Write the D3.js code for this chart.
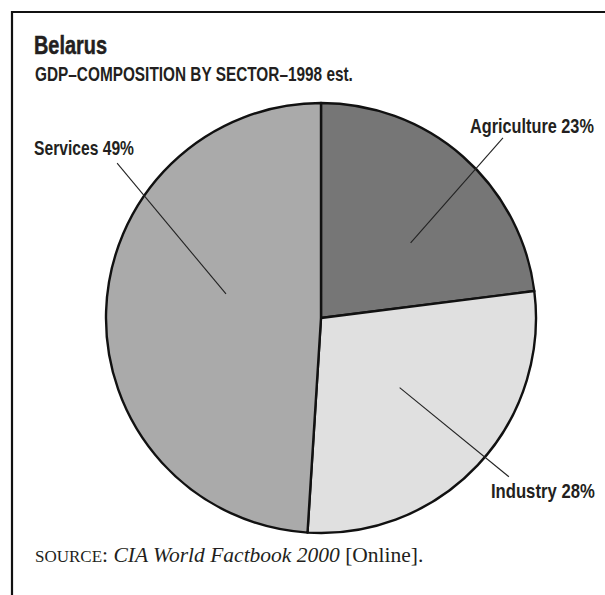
<!DOCTYPE html>
<html>
<head>
<meta charset="utf-8">
<script src="https://cdn.jsdelivr.net/npm/d3@7"></script>
<style>
  html, body { margin: 0; padding: 0; background: #fff; }
  svg { display: block; }
  .cond { font-family: "Liberation Sans", Arial, sans-serif; font-weight: bold; fill: #231f20; }
  .serif { font-family: "Liberation Serif", "DejaVu Serif", serif; fill: #231f20; }
</style>
</head>
<body>
<svg id="chart" width="605" height="595"></svg>
<script>
// GDP composition by sector, Belarus 1998 est.
const sectors = ["Agriculture", "Industry", "Services"];
const shares = [23, 28, 49];
const fills = ["#767676", "#e0e0e0", "#aaaaaa"];

// Leader lines: polar positions (degrees clockwise from 12 o'clock, radius in px),
// label offset from the outer end and label width for the condensed lettering
const leaders = [
  { inner: [50, 117], outer: [45.3, 256], dx: 29, dy: -5, width: 124 },
  { inner: [131.5, 105], outer: [130.2, 246], dx: 34, dy: 21, width: 104 },
  { inner: [284.2, 98], outer: [307.2, 256], dx: -33, dy: -8, width: 100 }
];

const svg = d3.select("#chart");
const W = 605, H = 595;

// condensed bold lettering: a regular bold face squeezed horizontally to a set width
function condText(parent, x, y, str, size, width) {
  const t = parent.append("text").attr("class", "cond")
    .attr("font-size", size).text(str);
  const natural = t.node().getComputedTextLength();
  t.attr("transform", `translate(${x},${y}) scale(${width / natural},1)`);
  return t;
}

// frame: top rule and left rule
svg.append("line").attr("x1", 11).attr("x2", W).attr("y1", 12).attr("y2", 12)
  .attr("stroke", "#111").attr("stroke-width", 2.2);
svg.append("line").attr("x1", 12).attr("x2", 12).attr("y1", 11).attr("y2", H)
  .attr("stroke", "#111").attr("stroke-width", 2.2);

condText(svg, 34, 54, "Belarus", 25.5, 73)
  .attr("stroke", "#231f20").attr("stroke-width", 0.5);
condText(svg, 35, 81, "GDP\u2013COMPOSITION BY SECTOR\u20131998 est.", 20, 318);

const cx = 321, cy = 318, R = 215;
const g = svg.append("g").attr("transform", `translate(${cx},${cy})`);

const pie = d3.pie().sort(null).value(d => d.value);
const arcs = pie(sectors.map((s, i) => ({ name: s, value: shares[i], fill: fills[i] })));
const arc = d3.arc().innerRadius(0).outerRadius(R);

g.selectAll("path.slice").data(arcs).join("path")
  .attr("class", "slice")
  .attr("d", arc)
  .attr("fill", d => d.data.fill)
  .attr("stroke", "#111")
  .attr("stroke-width", 2.4)
  .attr("stroke-linejoin", "round");

const polar = ([deg, r]) => {
  const a = deg * Math.PI / 180;
  return [r * Math.sin(a), -r * Math.cos(a)];
};

arcs.forEach((d, i) => {
  const L = leaders[i];
  const p0 = polar(L.inner), p1 = polar(L.outer);
  g.append("line")
    .attr("x1", p0[0]).attr("y1", p0[1]).attr("x2", p1[0]).attr("y2", p1[1])
    .attr("stroke", "#222").attr("stroke-width", 1.1);
  condText(g, p1[0] + L.dx - L.width / 2, p1[1] + L.dy,
    `${d.data.name} ${d.data.value}%`, 19.5, L.width);
});

// source line
const src = svg.append("text").attr("class", "serif").attr("x", 35).attr("y", 562)
  .attr("font-size", 21.5);
src.append("tspan").attr("font-size", 17).text("SOURCE");
src.append("tspan").text(": ");
src.append("tspan").attr("font-style", "italic").text("CIA World Factbook 2000");
src.append("tspan").text(" [Online].");
</script>
</body>
</html>
